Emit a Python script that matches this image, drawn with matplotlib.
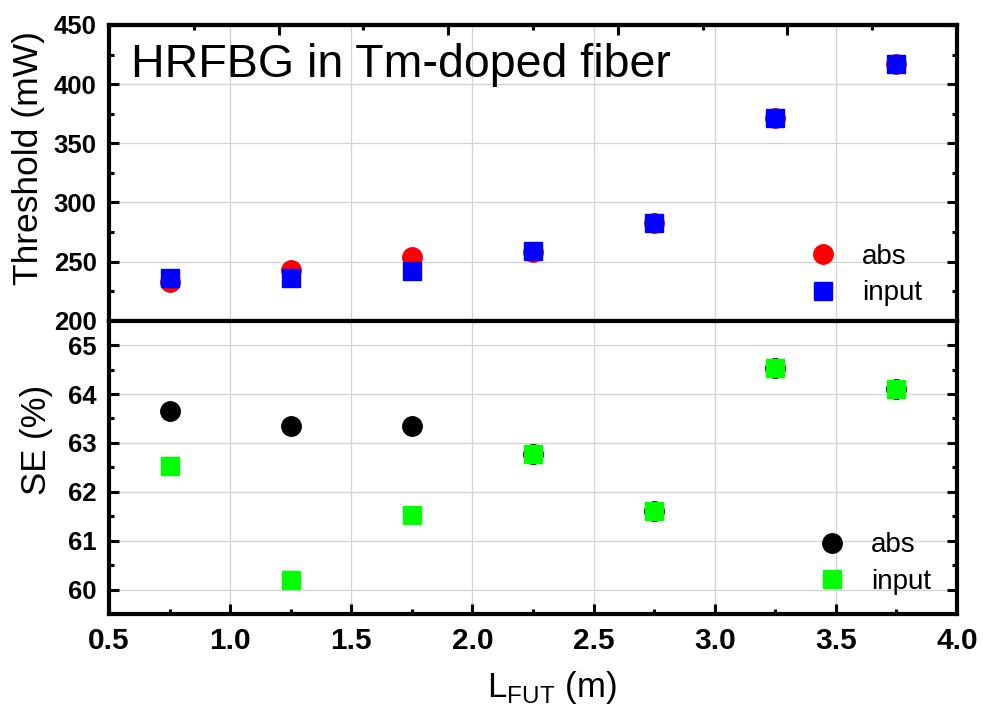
import numpy as np
import matplotlib
matplotlib.use('Agg')
import matplotlib.pyplot as plt

plt.rcParams['font.family'] = ['Liberation Sans', 'DejaVu Sans']
plt.rcParams['mathtext.fontset'] = 'custom'
plt.rcParams['mathtext.rm'] = 'Liberation Sans'

# fibre length under test (m)
length = [0.75, 1.25, 1.75, 2.25, 2.75, 3.25, 3.75]

# threshold (mW)
thr_abs = [233, 242.5, 254, 258.5, 283, 371, 417]
thr_input = [236, 236, 242, 259, 283, 371, 417]

# slope efficiency (%)
se_abs = [63.66, 63.35, 63.35, 62.77, 61.6, 64.53, 64.1]
se_input = [62.52, 60.2, 61.52, 62.77, 61.6, 64.53, 64.1]

xticks = [0.5, 1.0, 1.5, 2.0, 2.5, 3.0, 3.5, 4.0]
top_ticks = [0.5, 1.2, 1.9, 2.6, 3.3, 4.0]
top_minor = [0.85, 1.55, 2.25, 2.95, 3.65]

fig = plt.figure(figsize=(9.83, 7.06), dpi=100)
ax1 = fig.add_axes([0.1109, 0.5457, 0.8627, 0.4189])
ax2 = fig.add_axes([0.1109, 0.1303, 0.8627, 0.4154])

ms_c, ms_s = 14, 12.5

ax1.plot(length, thr_abs, ls='none', marker='o', ms=ms_c, color='#ff0000', label='abs', zorder=3)
ax1.plot(length, thr_input, ls='none', marker='s', ms=ms_s, color='#0000ff', label='input', zorder=4)
ax2.plot(length, se_abs, ls='none', marker='o', ms=ms_c, color='black', label='abs', zorder=3)
ax2.plot(length, se_input, ls='none', marker='s', ms=ms_s, color='#00ff00', label='input', zorder=4)

for ax in (ax1, ax2):
    ax.set_xlim(0.5, 4.0)
    ax.set_xticks(xticks)
    ax.set_xticks(np.arange(0.75, 4.0, 0.5), minor=True)
    ax.grid(True, which='major', color='#d2d2d2', lw=0.9)
    ax.set_axisbelow(True)
    for s in ax.spines.values():
        s.set_linewidth(3)
    ax.tick_params(which='major', direction='in', length=7, width=2.2, right=True, top=False)
    ax.tick_params(which='minor', direction='in', length=3.8, width=2.2, right=True, top=False)
    ax.tick_params(axis='y', labelsize=18.5, pad=9)
    ax.tick_params(axis='x', labelsize=21.5, pad=9)
    for lab in ax.get_xticklabels() + ax.get_yticklabels():
        lab.set_fontweight('bold')

ax1.set_ylim(200, 450)
ax1.set_yticks([200, 250, 300, 350, 400, 450])
ax1.set_yticks([225, 275, 325, 375, 425], minor=True)
ax1.tick_params(axis='x', which='both', bottom=False, labelbottom=False)

ax2.set_ylim(59.5, 65.5)
ax2.set_yticks([60, 61, 62, 63, 64, 65])
ax2.set_yticks(np.arange(60.5, 65.5, 1.0), minor=True)

# top axis of upper panel has its own divisions
sec = ax1.secondary_xaxis('top')
sec.set_xticks(top_ticks)
sec.set_xticks(top_minor, minor=True)
sec.tick_params(which='major', direction='in', length=7, width=2.2, labeltop=False)
sec.tick_params(which='minor', direction='in', length=3.8, width=2.2)
sec.spines['top'].set_linewidth(3)

ax1.text(0.0265, 0.824, 'HRFBG in Tm-doped fiber', transform=ax1.transAxes,
         fontsize=33.5, va='baseline', ha='left')

ax1.set_ylabel('Threshold (mW)', fontsize=25.5)
ax1.yaxis.set_label_coords(-0.0755, 0.55)
ax2.set_ylabel('SE (%)', fontsize=25)
ax2.yaxis.set_label_coords(-0.066, 0.593)
ax2.set_xlabel(r'L$_{\mathregular{FUT}}$ (m)', fontsize=25)
ax2.xaxis.set_label_coords(0.522, -0.1875)

leg_kw = dict(frameon=False, fontsize=20, handlelength=1.0, handletextpad=0.9,
              labelspacing=0.38, borderpad=0, borderaxespad=0, loc='upper left')
ax1.legend(bbox_to_anchor=(0.826, 0.26), **leg_kw)
ax2.legend(bbox_to_anchor=(0.836, 0.278), **leg_kw)

fig.savefig('out.png', dpi=100)
